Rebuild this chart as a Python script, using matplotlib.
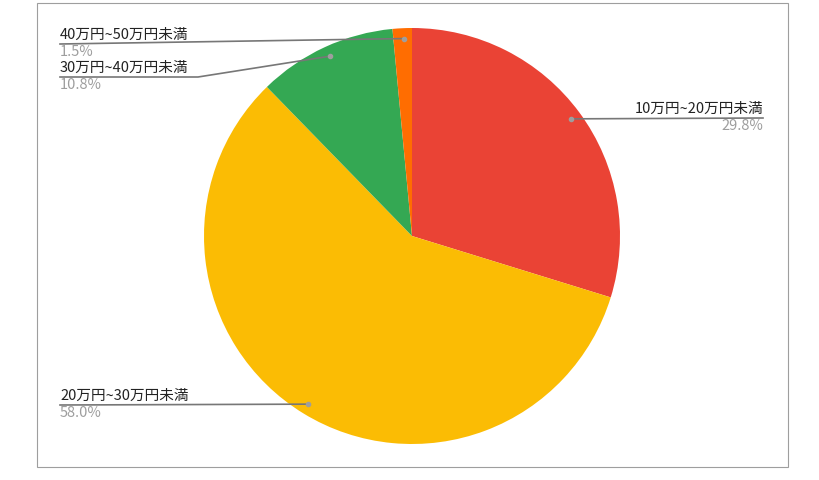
import numpy as np
import matplotlib.pyplot as plt

plt.rcParams['font.family'] = ['Noto Sans CJK JP', 'DejaVu Sans']

labels = ['10万円~20万円未満', '20万円~30万円未満', '30万円~40万円未満', '40万円~50万円未満']
shares = [29.8, 58.0, 10.8, 1.5]
colors = ['#EA4335', '#FBBC04', '#34A853', '#FF6D01']

# label anchors in pixel coords from top: (line end x, line end y, bend x, align)
anchors = [(763, 118, None, 'right'),
           (60, 405, None, 'left'),
           (60, 77, 198, 'left'),
           (60, 44, None, 'left')]

W, H = 819, 480
fig = plt.figure(figsize=(W / 100, H / 100), dpi=100)
ax = fig.add_axes([0, 0, 1, 1])

cx, cy, R = 412, H - 236, 208
ax.pie(shares, colors=colors, startangle=90, counterclock=False,
       center=(cx, cy), radius=R, frame=True,
       wedgeprops=dict(linewidth=0))
ax.set_xlim(0, W)
ax.set_ylim(0, H)
ax.set_aspect('equal')
ax.axis('off')

ax.add_patch(plt.Rectangle((37, H - 467), 751, 464, fill=False, ec='#9e9e9e', lw=0.8))

start = 90.0
for lab, s, (ex, ey, bx, ha) in zip(labels, shares, anchors):
    ey = H - ey
    mid = np.deg2rad(start - s * 3.6 / 2)
    start -= s * 3.6
    dx = cx + 0.95 * R * np.cos(mid)
    dy = cy + 0.95 * R * np.sin(mid)
    if bx is None:
        xs, ys = [dx, ex], [dy, ey]
    else:
        xs, ys = [dx, bx, ex], [dy, ey, ey]
    ax.plot(xs, ys, color='#777777', lw=1.2)
    ax.plot(dx, dy, 'o', color='#9e9e9e', ms=3)
    ax.text(ex, ey + 2, lab, ha=ha, va='bottom', fontsize=10.5, color='#222222')
    ax.text(ex, ey - 1, f'{s:.1f}%', ha=ha, va='top', fontsize=10.5, color='#9e9e9e')

fig.savefig('out.png', dpi=100, facecolor='white')
